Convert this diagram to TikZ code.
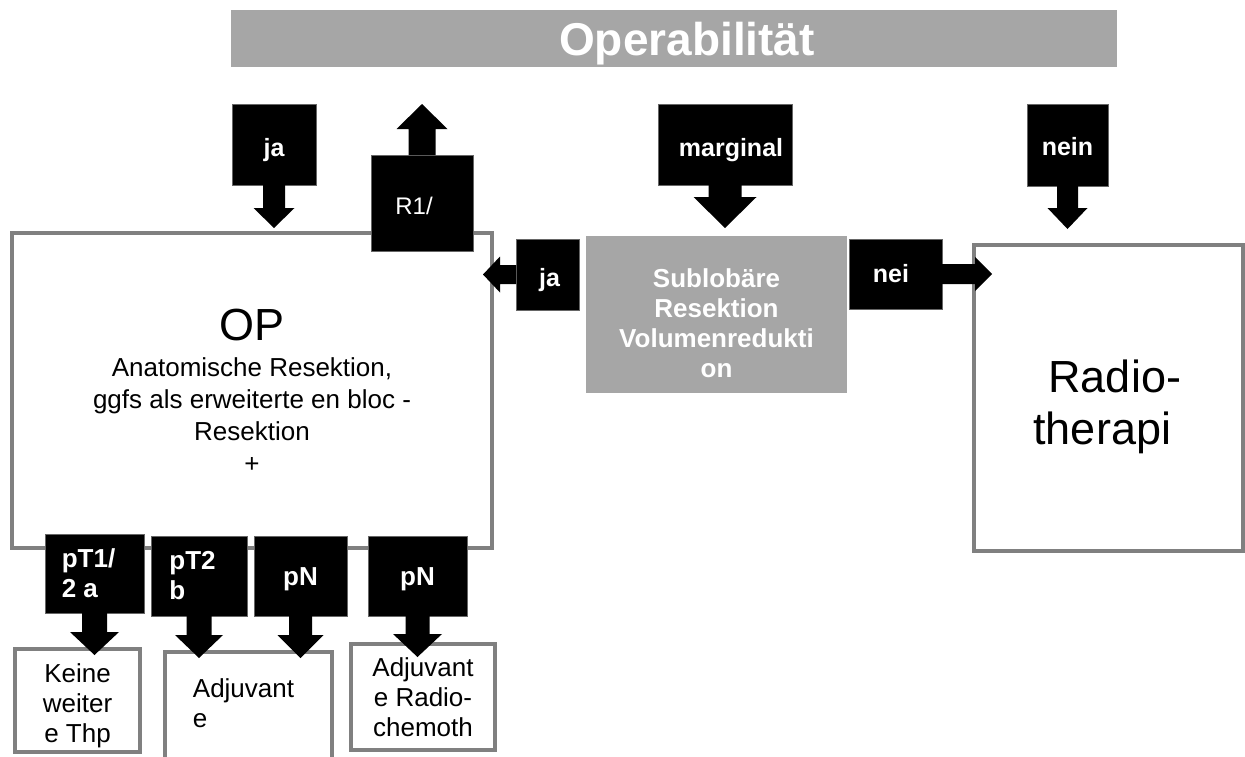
\documentclass[tikz,border=0pt]{standalone}
\usepackage{fontspec}
\setmainfont{Liberation Sans}
\usetikzlibrary{calc}
\definecolor{bargrey}{HTML}{A6A6A6}
\definecolor{boxgrey}{HTML}{808080}

% block arrow: from, to, half shaft, half head, head length
\newcommand{\blockarrow}[5]{%
  \fill let \p1=#1, \p2=#2, \n1={atan2(\y2-\y1,\x2-\x1)} in
    ($(\p1)+(\n1+90:#3)$) -- ($(\p2)+(\n1+180:#5)+(\n1+90:#3)$)
    -- ($(\p2)+(\n1+180:#5)+(\n1+90:#4)$) -- (\p2)
    -- ($(\p2)+(\n1+180:#5)+(\n1-90:#4)$) -- ($(\p2)+(\n1+180:#5)+(\n1-90:#3)$)
    -- ($(\p1)+(\n1-90:#3)$) -- cycle;}

\tikzset{
  greybox/.style={draw=boxgrey, line width=4.5pt, fill=white, inner sep=0pt, outer sep=0pt,
    align=center, font=\fontsize{26}{30}\selectfont},
  callout/.style={fill=black, draw=black!60, line width=0.6pt, text=white, inner sep=0pt,
    outer sep=0pt, align=center, font=\bfseries\fontsize{25}{30}\selectfont},
  headbar/.style={fill=bargrey, inner sep=0pt, outer sep=0pt, text=white},
}

\begin{document}
\begin{tikzpicture}[x=1pt, y=-1pt]
    \useasboundingbox (0,0) rectangle (1245,756);

    % Title
    \node[headbar, minimum width=886pt, minimum height=57pt, text depth=0pt,
      font=\bfseries\fontsize{46}{46}\selectfont] (title) at (674,38.5) {\hspace*{26pt}Operabilität};

    % Main boxes
    \node[greybox, minimum width=480pt, minimum height=315pt, font=\fontsize{26}{32}\selectfont]
      (op) at (252,390.5) {{\fontsize{45}{45}\selectfont OP}\\[4pt] Anatomische Resektion,\\
      ggfs als erweiterte en bloc -\\ Resektion\\ +};
    \node[headbar, minimum width=261pt, minimum height=157pt, align=center,
      font=\bfseries\fontsize{26}{30}\selectfont] (sublob) at (716.5,314.5)
      {\rule{0pt}{37pt}Sublobäre\\ Resektion\\ Volumenredukti\\ on};
    \node[greybox, minimum width=269pt, minimum height=306pt, font=\fontsize{45}{52}\selectfont]
      (radio) at (1108.5,398) {\rule{0pt}{49.5pt}\hspace*{12.5pt}Radio-\\ therapi\hspace*{12.5pt}};

    % Bottom boxes
    \node[greybox, minimum width=125pt, minimum height=103pt] (keine) at (77.5,700.5)
      {\rule{0pt}{28.5pt}Keine\\ weiter\\ e Thp};
    \node[greybox, minimum width=167pt, minimum height=110pt, align=left] (adj) at (248.5,707)
      {Adjuvant\hspace*{10pt}\\ e\rule[-8.6pt]{0pt}{1pt}};
    \node[greybox, minimum width=144pt, minimum height=106pt] (adjrc) at (423,697)
      {Adjuvant\\ e Radio-\\ chemoth};

    % Callouts
    \node[callout, minimum width=84pt, minimum height=81pt] (ja) at (274,144.5) {\rule{0pt}{30pt}ja};
    \node[callout, minimum width=102pt, minimum height=96pt, font=\fontsize{24}{28}\selectfont]
      (rone) at (422,203) {\rule{0pt}{24pt}R1/\hspace*{16pt}};
    \node[callout, minimum width=134pt, minimum height=81pt] (marginal) at (725,144.5)
      {\rule{0pt}{30pt}\hspace*{12pt}marginal};
    \node[callout, minimum width=81pt, minimum height=82pt] (nein) at (1067.5,145) {\rule{0pt}{22pt}nein};
    \node[callout, minimum width=63pt, minimum height=71pt] (jaleft) at (547.5,274.5)
      {\rule{0pt}{30pt}\hspace*{4pt}ja};
    \node[callout, minimum width=93pt, minimum height=70pt] (nei) at (895.5,274) {nei\hspace*{9pt}};
    \node[callout, minimum width=99pt, minimum height=79pt, align=left,
      font=\bfseries\fontsize{26}{30}\selectfont] (pta) at (94.5,573.5) {pT1/\hspace*{12pt}\\ 2 a};
    \node[callout, minimum width=96pt, minimum height=80pt, align=left,
      font=\bfseries\fontsize{26}{30}\selectfont] (ptb) at (199,576) {pT2\hspace*{13pt}\\ b};
    \node[callout, minimum width=93pt, minimum height=80pt,
      font=\bfseries\fontsize{26}{30}\selectfont] (pna) at (300.5,576) {\rule{0pt}{24pt}pN};
    \node[callout, minimum width=99pt, minimum height=80pt,
      font=\bfseries\fontsize{26}{30}\selectfont] (pnb) at (417.5,576) {\rule{0pt}{24pt}pN};

    % Arrow tips
    \coordinate (jatip) at (274,228);
    \coordinate (ronetip) at (422,104);
    \coordinate (margtip) at (725,228);
    \coordinate (neintip) at (1067.5,229);
    \coordinate (jalefttip) at (483,274.5);
    \coordinate (neitip) at (992,274);
    \coordinate (ptatip) at (94.5,655);
    \coordinate (ptbtip) at (199,658);
    \coordinate (pnatip) at (300.5,658);
    \coordinate (pnbtip) at (417.5,657);

    % Block arrows
    \blockarrow{(ja.south)}{(jatip)}{11pt}{20.5pt}{20pt}
    \blockarrow{(rone.north)}{(ronetip)}{13.5pt}{25.5pt}{25pt}
    \blockarrow{(marginal.south)}{(margtip)}{16.5pt}{31.5pt}{31pt}
    \blockarrow{(nein.south)}{(neintip)}{10.5pt}{20pt}{21pt}
    \blockarrow{(jaleft.west)}{(jalefttip)}{9.5pt}{18pt}{17pt}
    \blockarrow{(nei.east)}{(neitip)}{10pt}{17pt}{17pt}
    \blockarrow{(pta.south)}{(ptatip)}{12.5pt}{24.5pt}{23pt}
    \blockarrow{(ptb.south)}{(ptbtip)}{12.5pt}{24pt}{23pt}
    \blockarrow{(pna.south)}{(pnatip)}{11.5pt}{23pt}{23pt}
    \blockarrow{(pnb.south)}{(pnbtip)}{12pt}{24.5pt}{23pt}
\end{tikzpicture}
\end{document}
